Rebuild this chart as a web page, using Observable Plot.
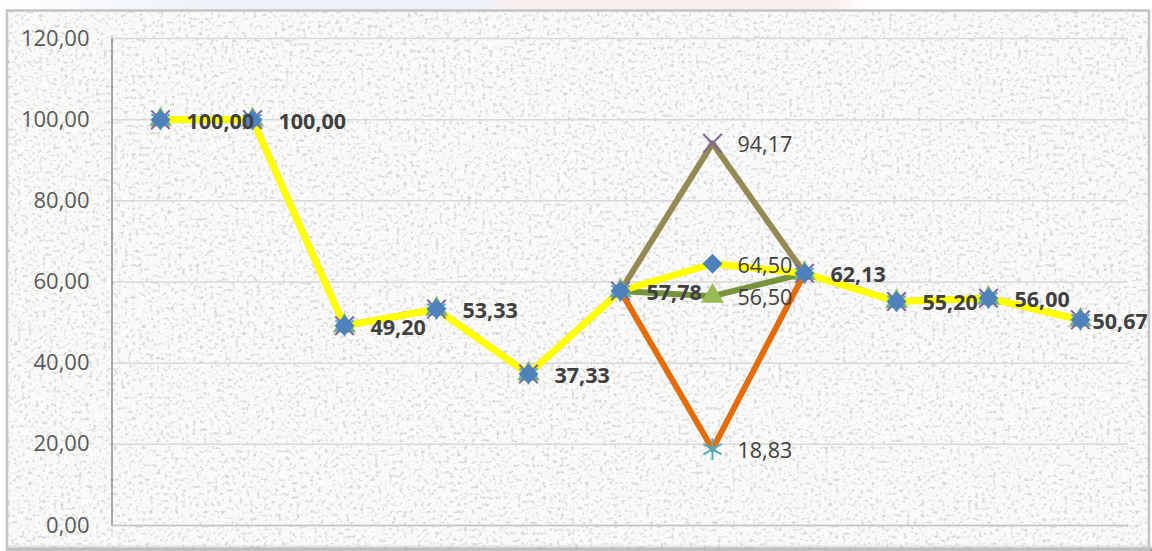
<!DOCTYPE html>
<html>
<head>
<meta charset="utf-8">
<script src="https://cdn.jsdelivr.net/npm/d3@7"></script>
<script src="https://cdn.jsdelivr.net/npm/@observablehq/plot@0.6"></script>
<style>
  html, body { margin: 0; padding: 0; background: #ffffff; }
  #wrap { position: relative; width: 1152px; height: 551px; overflow: hidden; }
  #bg, #chart svg { position: absolute; left: 0; top: 0; }
</style>
</head>
<body>
<div id="wrap">
  <svg id="bg" width="1152" height="551"></svg>
  <div id="chart"></div>
</div>
<script>
// ---- data ----
const categories = [1, 2, 3, 4, 5, 6, 7, 8, 9, 10, 11];
const seriesDiamond  = [100.00, 100.00, 49.20, 53.33, 37.33, 57.78, 64.50, 62.13, 55.20, 56.00, 50.67];
const seriesTriangle = [100.00, 100.00, 49.20, 53.33, 37.33, 57.78, 56.50, 62.13, 55.20, 56.00, 50.67];
const seriesTimes    = [100.00, 100.00, 49.20, 53.33, 37.33, 57.78, 94.17, 62.13, 55.20, 56.00, 50.67];
const seriesStar     = [100.00, 100.00, 49.20, 53.33, 37.33, 57.78, 18.83, 62.13, 55.20, 56.00, 50.67];
const yTicks = [0, 20, 40, 60, 80, 100, 120];

const fmt = v => d3.format(".2f")(v).replace(".", ",");
const toRows = vals => categories.map((c, k) => ({c, v: vals[k]}));

const rowsDiamond = toRows(seriesDiamond);
const rowsTriangle = toRows(seriesTriangle);
const rowsTimes = toRows(seriesTimes);
const rowsStar = toRows(seriesStar);

// labels: shared points (all series equal) appear bold because labels overprint
const allSeries = [seriesDiamond, seriesTriangle, seriesTimes, seriesStar];
const labels = [];
categories.forEach((c, k) => {
  const vals = allSeries.map(s => s[k]);
  const same = vals.every(v => v === vals[0]);
  const last = k === categories.length - 1;
  if (same) labels.push({c, v: vals[0], text: fmt(vals[0]), bold: true, last});
  else vals.forEach(v => labels.push({c, v, text: fmt(v), bold: false, last}));
});

// ---- background texture ----
const W = 1152, H = 551;
const bg = d3.select("#bg");
const defs = bg.append("defs");
const f = defs.append("filter").attr("id", "noise").attr("x", 0).attr("y", 0).attr("width", "100%").attr("height", "100%");
f.append("feTurbulence").attr("type", "fractalNoise").attr("baseFrequency", 0.28).attr("numOctaves", 3).attr("seed", 11);
f.append("feColorMatrix").attr("type", "matrix")
  .attr("values", "0 0 0 0 0.62  0 0 0 0 0.62  0 0 0 0 0.62  4.2 0 0 0 -2.25");
const sh = defs.append("linearGradient").attr("id", "bot").attr("x1", 0).attr("y1", 0).attr("x2", 0).attr("y2", 1);
sh.append("stop").attr("offset", 0).attr("stop-color", "#ffffff").attr("stop-opacity", 0);
sh.append("stop").attr("offset", 1).attr("stop-color", "#6e6e6e").attr("stop-opacity", 0.9);
const tg = defs.append("linearGradient").attr("id", "topstrip").attr("x1", 0).attr("y1", 0).attr("x2", 1).attr("y2", 0);
tg.append("stop").attr("offset", 0).attr("stop-color", "#ffffff");
tg.append("stop").attr("offset", 0.18).attr("stop-color", "#eef2f8");
tg.append("stop").attr("offset", 0.42).attr("stop-color", "#eef2f8");
tg.append("stop").attr("offset", 0.45).attr("stop-color", "#fbeeee");
tg.append("stop").attr("offset", 0.72).attr("stop-color", "#fbeeee");
tg.append("stop").attr("offset", 0.76).attr("stop-color", "#ffffff");

bg.append("rect").attr("x", 0).attr("y", 0).attr("width", W).attr("height", 12).attr("fill", "url(#topstrip)");
bg.append("rect").attr("x", 6).attr("y", 10).attr("width", W - 8).attr("height", H - 10).attr("fill", "#fafaf9");
bg.append("rect").attr("x", 6).attr("y", 10).attr("width", W - 8).attr("height", H - 10).attr("filter", "url(#noise)").attr("opacity", 0.8);
bg.append("rect").attr("x", 6).attr("y", H - 8).attr("width", W - 6).attr("height", 8).attr("fill", "url(#bot)");
bg.append("rect").attr("x", 7).attr("y", 10.5).attr("width", W - 10).attr("height", H - 11)
  .attr("fill", "none").attr("stroke", "#c4c4c4").attr("stroke-width", 2.5);

// ---- chart ----
const labelFont = {fill: "#404040", fontSize: 21.5, textAnchor: "start", dy: 2};
const chart = Plot.plot({
  width: W,
  height: H,
  marginLeft: 112,
  marginRight: 24,
  marginTop: 38,
  marginBottom: 26,
  style: {background: "transparent", fontFamily: "'Open Sans', sans-serif", fontSize: "22px", color: "#595959"},
  x: {type: "point", domain: categories, padding: 0.5, axis: null},
  y: {domain: [0, 120], axis: null},
  marks: [
    Plot.gridY(yTicks, {stroke: "#d9d9d9", strokeOpacity: 1, strokeWidth: 1.5}),
    Plot.ruleY([0], {stroke: "#c4c4c4", strokeWidth: 1.5}),
    Plot.axisY(yTicks, {tickSize: 0, tickPadding: 23, tickFormat: fmt, fontSize: 22, fill: "#595959", label: null}),
    Plot.lineY(rowsStar, {x: "c", y: "v", stroke: "#e46c0a", strokeWidth: 6}),
    Plot.lineY(rowsTimes, {x: "c", y: "v", stroke: "#948a54", strokeWidth: 6}),
    Plot.lineY(rowsTriangle, {x: "c", y: "v", stroke: "#77933c", strokeWidth: 6}),
    Plot.lineY(rowsDiamond, {x: "c", y: "v", stroke: "#ffff00", strokeWidth: 7}),
    Plot.dot(rowsTriangle, {x: "c", y: "v", symbol: "triangle", r: 8.5, fill: "#9bbb59", stroke: "none"}),
    Plot.dot(rowsTimes, {x: "c", y: "v", symbol: "times", r: 8.5, stroke: "#8064a2", strokeWidth: 2}),
    Plot.dot(rowsStar, {x: "c", y: "v", symbol: "asterisk", r: 10, stroke: "#4bacc6", strokeWidth: 2}),
    Plot.dot(rowsDiamond, {x: "c", y: "v", symbol: "diamond2", r: 9, fill: "#4f81bd", stroke: "none"}),
    Plot.text(labels.filter(d => d.bold && !d.last), {x: "c", y: "v", text: "text", ...labelFont, dx: 26, fontWeight: "bold"}),
    Plot.text(labels.filter(d => d.bold && d.last), {x: "c", y: "v", text: "text", ...labelFont, dx: 12, fontWeight: "bold"}),
    Plot.text(labels.filter(d => !d.bold), {x: "c", y: "v", text: "text", ...labelFont, dx: 25, fontWeight: "normal"})
  ]
});

// left axis line from scales
const ys = chart.scale("y"), xs = chart.scale("x");
const xLeft = Math.min(...xs.range);
d3.select(chart).append("line")
  .attr("x1", xLeft).attr("x2", xLeft)
  .attr("y1", ys.apply(0)).attr("y2", ys.apply(120))
  .attr("stroke", "#8c8c8c").attr("stroke-width", 1.5);

document.getElementById("chart").appendChild(chart);
</script>
</body>
</html>
